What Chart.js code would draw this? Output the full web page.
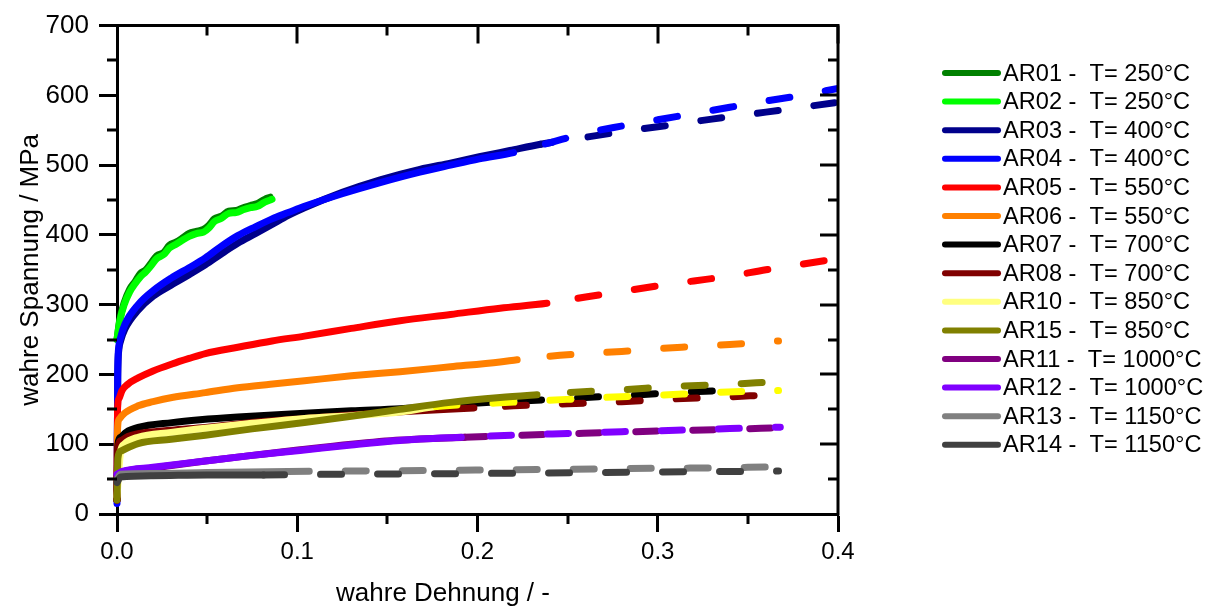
<!DOCTYPE html>
<html>
<head>
<meta charset="utf-8">
<script src="https://cdn.jsdelivr.net/npm/chart.js@4.4.1/dist/chart.umd.min.js"></script>
<style>
  html, body { margin: 0; padding: 0; background: #fff; }
  #c { display: block; }
</style>
</head>
<body>
<canvas id="c" width="1213" height="609"></canvas>
<script>
// Fliesskurven AR01..AR15, wahre Dehnung (x) / wahre Spannung in MPa (y)
const labels = ["AR01 -  T= 250°C", "AR02 -  T= 250°C", "AR03 -  T= 400°C", "AR04 -  T= 400°C",
                "AR05 -  T= 550°C", "AR06 -  T= 550°C", "AR07 -  T= 700°C", "AR08 -  T= 700°C",
                "AR10 -  T= 850°C", "AR15 -  T= 850°C", "AR11 -  T= 1000°C", "AR12 -  T= 1000°C",
                "AR13 -  T= 1150°C", "AR14 -  T= 1150°C"];
const colors = ["#008000", "#00ff00", "#00008b", "#0000ff", "#ff0000", "#ff8000", "#000000", "#800000",
                "#ffff80", "#808000", "#800080", "#8000ff", "#808080", "#404040"];
const dashColors = ["#008000", "#00ff00", "#00008b", "#0000ff", "#ff0000", "#ff8000", "#000000", "#800000",
                    "#ffff00", "#808000", "#800080", "#8000ff", "#808080", "#404040"];

// ab hier gestrichelt (Extrapolation)
const dashFrom = [Infinity, Infinity, 0.235, 0.22, 0.2385, 0.222, 0.207, 0.198, 0.177, 0.233, 0.193, 0.191, 0.095, 0.0813];
const dashShift = [0, 0, 9, 24, 25.5, 24, 26.5, 25.5, 0, 23.5, 0, 27.8, 0, 0];

const strain01 = [0, 0.0015, 0.004, 0.007, 0.010, 0.013, 0.016, 0.019, 0.022, 0.026, 0.029, 0.033, 0.036, 0.040, 0.044, 0.048, 0.051, 0.054, 0.058, 0.062, 0.066, 0.070, 0.074, 0.078, 0.082, 0.085];
const stress01 = [250, 278, 303, 322, 333, 345, 350, 360, 370, 375, 385, 390, 395, 402, 405, 408, 414, 423, 427, 434, 435, 439, 442, 445, 451, 454];
const strain02 = [0, 0.0015, 0.004, 0.007, 0.010, 0.013, 0.016, 0.019, 0.022, 0.026, 0.029, 0.033, 0.036, 0.040, 0.044, 0.048, 0.051, 0.054, 0.058, 0.062, 0.066, 0.070, 0.074, 0.078, 0.082, 0.086];
const stress02 = [250, 276, 300, 318, 330, 340, 347, 356, 366, 372, 381, 387, 392, 398, 402, 404, 410, 419, 424, 431, 432, 436, 439, 441, 447, 451];
const strain03 = [0, 0.0004, 0.001, 0.002, 0.0044, 0.0117, 0.02, 0.03, 0.04, 0.049, 0.058, 0.067, 0.077, 0.086, 0.095, 0.104, 0.125, 0.146, 0.168, 0.185, 0.201, 0.218, 0.235, 0.26, 0.28, 0.30, 0.33, 0.36, 0.38, 0.40];
const stress03 = [20, 195, 235, 248, 265, 292, 312, 328, 343, 357, 373, 388, 402, 415, 428, 439, 461, 479, 494, 503, 512, 521, 530, 540, 548, 555, 566, 576, 583, 590];
const strain04 = [0, 0.0004, 0.001, 0.002, 0.0044, 0.0117, 0.02, 0.03, 0.04, 0.049, 0.058, 0.067, 0.077, 0.086, 0.095, 0.104, 0.125, 0.146, 0.168, 0.185, 0.201, 0.22, 0.24, 0.26, 0.28, 0.30, 0.32, 0.34, 0.36, 0.38, 0.40];
const stress04 = [15, 200, 240, 253, 272, 300, 320, 338, 353, 367, 384, 399, 412, 423, 432, 441, 459, 475, 490, 500, 509, 518, 532, 546, 556, 565, 574, 583, 592, 600, 610];
const strain05 = [0, 0.0003, 0.001, 0.0028, 0.006, 0.0117, 0.02, 0.0305, 0.04, 0.049, 0.067, 0.086, 0.104, 0.13, 0.157, 0.185, 0.2125, 0.2385, 0.26, 0.28, 0.30, 0.32, 0.34, 0.36, 0.38, 0.40];
const stress05 = [20, 150, 165, 177, 186, 195, 205, 215, 223, 230, 239, 248, 255, 266, 277, 286, 295, 302, 311, 319, 327, 334, 341, 350, 358, 366];
const strain06 = [0, 0.0003, 0.001, 0.0044, 0.0117, 0.02, 0.0305, 0.049, 0.067, 0.085, 0.104, 0.13, 0.157, 0.185, 0.2125, 0.222, 0.24, 0.26, 0.28, 0.30, 0.32, 0.34, 0.367];
const stress06 = [20, 120, 135, 145, 155, 161, 167, 174, 181, 186, 191, 198, 204, 211, 218, 221, 226, 230, 233, 237, 240, 243, 248];
const strain07 = [0, 0.0005, 0.002, 0.005, 0.0117, 0.0305, 0.046, 0.067, 0.1015, 0.13, 0.157, 0.194, 0.207, 0.24, 0.26, 0.29, 0.31, 0.335];
const stress07 = [20, 100, 110, 117, 124, 131, 135, 139, 144, 148, 151, 158, 160, 164, 167, 171, 174, 177];
const strain08 = [0, 0.0005, 0.002, 0.006, 0.0117, 0.03, 0.049, 0.075, 0.104, 0.13, 0.16, 0.198, 0.22, 0.25, 0.28, 0.31, 0.34, 0.357];
const stress08 = [20, 95, 105, 111, 115, 120, 124, 131, 137, 142, 147, 152, 155, 158, 161, 165, 168, 170];
const strain10 = [0, 0.001, 0.002, 0.004, 0.0117, 0.03, 0.049, 0.075, 0.104, 0.13, 0.157, 0.177, 0.21, 0.24, 0.27, 0.30, 0.33, 0.367];
const stress10 = [25, 60, 90, 100, 110, 117, 123, 130, 137, 141, 146, 154, 159, 163, 167, 170, 174, 177];
const strain15 = [0, 0.0005, 0.002, 0.0117, 0.03, 0.049, 0.075, 0.104, 0.13, 0.157, 0.185, 0.2125, 0.233, 0.25, 0.28, 0.31, 0.34, 0.362];
const stress15 = [20, 80, 90, 101, 107, 113, 122, 131, 140, 150, 160, 167, 171, 174, 178, 183, 186, 189];
const strain11 = [0, 0.003, 0.02, 0.049, 0.075, 0.1015, 0.13, 0.157, 0.193, 0.22, 0.25, 0.28, 0.31, 0.34, 0.366];
const stress11 = [55, 60, 66, 76, 84, 92, 100, 106, 110, 112.5, 115, 117.5, 119.5, 121.5, 123.5];
const strain12 = [0, 0.003, 0.02, 0.049, 0.075, 0.1015, 0.13, 0.157, 0.191, 0.22, 0.25, 0.28, 0.31, 0.34, 0.368];
const stress12 = [57, 61, 67, 76, 84, 91, 99, 105.5, 110, 113, 115.5, 118, 120, 122.5, 124.5];
const strain13 = [0, 0.002, 0.02, 0.05, 0.095, 0.15, 0.2, 0.25, 0.3, 0.33, 0.362];
const stress13 = [50, 57, 58, 59.5, 61, 62, 63, 64, 65.5, 66, 67.5];
const strain14 = [0, 0.002, 0.02, 0.05, 0.0813, 0.12, 0.17, 0.22, 0.27, 0.32, 0.367];
const stress14 = [45, 53, 55, 56, 56, 57, 57.5, 58.5, 59.5, 60.5, 61.5];

const strains = [strain01, strain02, strain03, strain04, strain05, strain06, strain07, strain08, strain10, strain15, strain11, strain12, strain13, strain14];
const stresses = [stress01, stress02, stress03, stress04, stress05, stress06, stress07, stress08, stress10, stress15, stress11, stress12, stress13, stress14];

const xTicks = [0, 0.1, 0.2, 0.3, 0.4];
const yTicks = [0, 100, 200, 300, 400, 500, 600, 700];
const xTitle = "wahre Dehnung / -";
const yTitle = "wahre Spannung / MPa";

const fontFam = '"Liberation Sans", Arial, sans-serif';
const dash = [21, 36];

function points(i) {
    let pts = [];
    for (let k = 0; k < strains[i].length; k++) {
        pts.push({x: strains[i][k], y: stresses[i][k]});
    }
    return pts;
}

function isDashed(i, c) {
    return c.p0.parsed.x >= dashFrom[i] - 1e-9;
}

let datasets = [];
for (let i = 0; i < labels.length; i++) {
    datasets.push({
        label: labels[i],
        data: points(i),
        borderColor: colors[i],
        borderWidth: 7,
        borderCapStyle: 'round',
        borderJoinStyle: 'round',
        pointRadius: 0,
        cubicInterpolationMode: 'monotone',
        clip: {left: 4, top: 0, right: 0, bottom: 0},
        order: labels.length - i,
        segment: {
            borderDash: c => isDashed(i, c) ? dash : undefined,
            borderDashOffset: c => isDashed(i, c) ? dashShift[i] : undefined,
            borderColor: c => isDashed(i, c) ? dashColors[i] : undefined
        }
    });
}

// Nebenstriche, Rahmen oben/rechts mit Innenstrichen, x-Titel
const frameTicks = {
    id: 'frameTicks',
    afterDatasetsDraw(chart) {
        const ctx = chart.ctx;
        const a = chart.chartArea;
        const sx = chart.scales.x;
        const sy = chart.scales.y;
        ctx.save();
        ctx.strokeStyle = '#000';
        ctx.lineWidth = 3;
        ctx.lineCap = 'butt';
        ctx.beginPath();
        ctx.moveTo(a.left - 1.5, a.top);
        ctx.lineTo(a.right, a.top);
        ctx.lineTo(a.right, a.bottom + 1.5);
        ctx.stroke();
        ctx.beginPath();
        for (let v = 0.05; v < 0.4; v += 0.05) {
            const px = Math.round(sx.getPixelForValue(v));
            const major = Math.abs(v * 10 - Math.round(v * 10)) < 1e-6;
            const len = major ? 18 : 10;
            ctx.moveTo(px, a.top);
            ctx.lineTo(px, a.top + len);
            if (!major) {
                ctx.moveTo(px, a.bottom);
                ctx.lineTo(px, a.bottom + 10);
            }
        }
        for (let v = 50; v < 700; v += 50) {
            const py = Math.round(sy.getPixelForValue(v));
            const major = v % 100 == 0;
            const len = major ? 18 : 10;
            ctx.moveTo(a.right, py);
            ctx.lineTo(a.right - len, py);
            if (!major) {
                ctx.moveTo(a.left, py);
                ctx.lineTo(a.left - 10, py);
            }
        }
        ctx.stroke();

        ctx.fillStyle = '#000';
        ctx.font = '26px ' + fontFam;
        ctx.textAlign = 'center';
        ctx.textBaseline = 'middle';
        ctx.fillText(xTitle, 443, 594);
        ctx.restore();
    }
};

const legendBox = {
    id: 'legendBox',
    afterDraw(chart) {
        const ctx = chart.ctx;
        ctx.save();
        ctx.font = '23.6px ' + fontFam;
        ctx.textBaseline = 'middle';
        ctx.lineCap = 'round';
        ctx.lineWidth = 6;
        for (let i = 0; i < labels.length; i++) {
            const yy = 73 + i * 28.6;
            ctx.strokeStyle = colors[i];
            ctx.beginPath();
            ctx.moveTo(945, yy);
            ctx.lineTo(998, yy);
            ctx.stroke();
            ctx.fillStyle = '#000';
            ctx.fillText(labels[i], 1003, yy + 1);
        }
        ctx.restore();
    }
};

new Chart(document.getElementById('c'), {
    type: 'line',
    data: {datasets: datasets},
    plugins: [frameTicks, legendBox],
    options: {
        responsive: false,
        animation: false,
        events: [],
        devicePixelRatio: 1,
        layout: {padding: {left: 0, top: 23, right: 375, bottom: 0}},
        plugins: {legend: {display: false}, tooltip: {enabled: false}},
        scales: {
            x: {
                type: 'linear',
                min: 0,
                max: 0.4,
                afterFit: s => { s.height = 95; },
                afterBuildTicks: s => { s.ticks = xTicks.map(v => ({value: v})); },
                ticks: {
                    color: '#000',
                    font: {family: fontFam, size: 24},
                    padding: 6,
                    maxRotation: 0,
                    callback: v => v.toFixed(1)
                },
                grid: {display: true, drawOnChartArea: false, drawTicks: true, tickLength: 18, tickWidth: 3, tickColor: '#000'},
                border: {display: true, color: '#000', width: 3},
                title: {display: false}
            },
            y: {
                type: 'linear',
                min: 0,
                max: 700,
                afterFit: s => { s.width = 117; },
                afterBuildTicks: s => { s.ticks = yTicks.map(v => ({value: v})); },
                ticks: {
                    color: '#000',
                    font: {family: fontFam, size: 26},
                    padding: 10,
                    callback: v => String(v)
                },
                grid: {display: true, drawOnChartArea: false, drawTicks: true, tickLength: 18, tickWidth: 3, tickColor: '#000'},
                border: {display: true, color: '#000', width: 3},
                title: {display: true, text: yTitle, color: '#000', font: {family: fontFam, size: 26}, padding: {top: 15, bottom: 0}}
            }
        }
    }
});
</script>
</body>
</html>
